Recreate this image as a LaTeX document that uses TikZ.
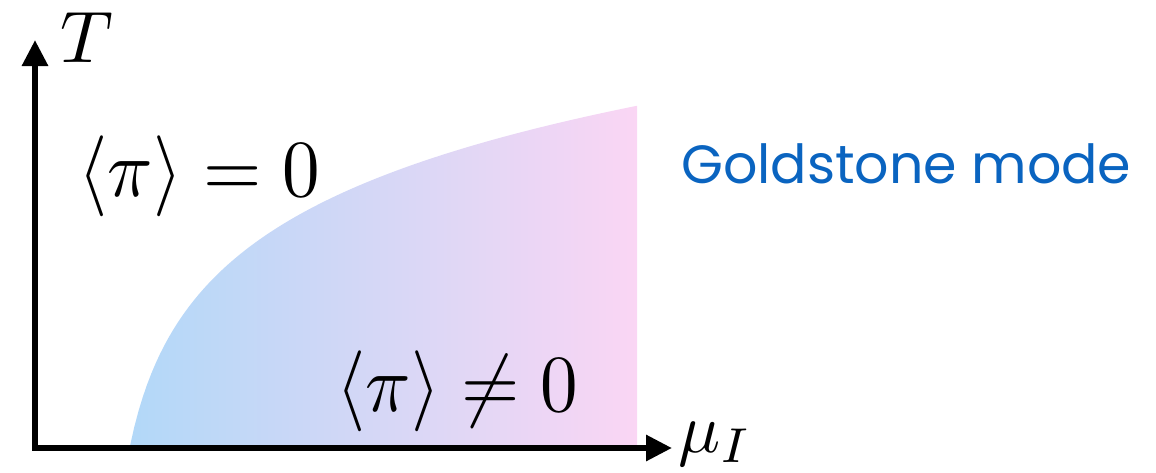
\documentclass[tikz,border=0pt]{standalone}
\usepackage{fontspec}
\usepackage{graphicx}
\newfontfamily\labelfont{Poppins}
\usetikzlibrary{arrows.meta}
\definecolor{gsblue}{RGB}{10,100,192}
\definecolor{phblue}{RGB}{178,216,248}
\definecolor{phpink}{RGB}{250,214,244}
\tikzset{
  axis/.style={line width=6pt,-{Triangle[length=26pt,width=25pt]}},
  mathlbl/.style={inner sep=0pt,anchor=base west},
  phase/.style={left color=phblue,right color=phpink,draw=none}
}
\begin{document}
\begin{tikzpicture}[x=1pt,y=-1pt]
\useasboundingbox (0,0) rectangle (1156,472);
% ordered phase region
\path[phase] plot[domain=0:507,samples=120] ({130+\x},{446-107*ln(1+\x/22)})
  -- (637,446) -- cycle;
% axes
\coordinate (O) at (35,448);
\coordinate (Ttop) at (35,40);
\coordinate (Mright) at (672,448);
\draw[axis] ([yshift=3pt]O) -- (Ttop);
\draw[axis] ([xshift=-3pt]O) -- (Mright);
% labels
\node[mathlbl,scale=7.3] (tlab) at (59,62) {$T$};
\node[mathlbl,scale=7.0] (mulab) at (677,452) {$\mu_I$};
\node[mathlbl,xscale=7.5,yscale=8.1] (sym) at (77,196) {$\langle\pi\rangle=0$};
\node[mathlbl,xscale=7.5,yscale=8.1] (brk) at (335,411) {$\langle\pi\rangle\neq 0$};
\node[inner sep=0pt,anchor=base west,text=gsblue] (gs) at (681,183)
  {\resizebox{450pt}{!}{\labelfont Goldstone mode}};
\end{tikzpicture}
\end{document}
